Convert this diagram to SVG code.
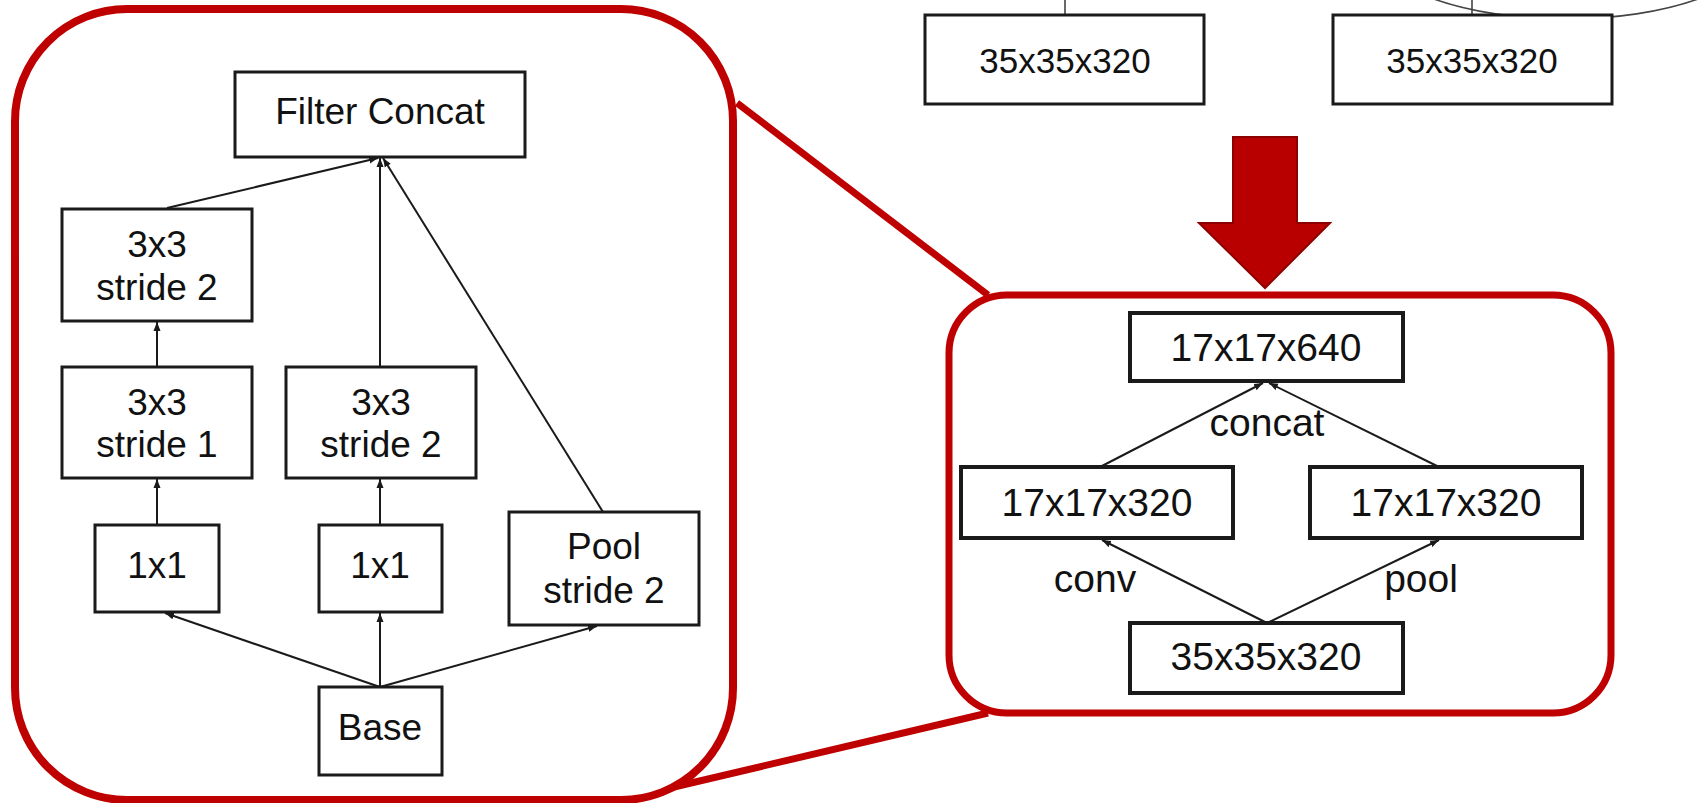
<svg xmlns="http://www.w3.org/2000/svg" width="1699" height="803" viewBox="0 0 1699 803">
  <style>
    .bg { fill: #ffffff; }
    .box { fill: #ffffff; stroke: #1a1a1a; stroke-width: 3; }
    .box2 { fill: #ffffff; stroke: #1a1a1a; stroke-width: 4; }
    .frame { fill: none; stroke: #BF0000; stroke-width: 8; }
    .link { fill: none; stroke: #BF0000; stroke-width: 7; stroke-linecap: butt; }
    .edge { fill: none; stroke: #1a1a1a; stroke-width: 2; }
    .thin { fill: none; stroke: #444444; stroke-width: 1.6; }
    .t { font-family: "Liberation Sans", Arial, sans-serif; fill: #111111; text-anchor: middle; }
    .l { font-size: 37px; }
    .r { font-size: 39px; }
    .s { font-size: 35px; }
  </style>
  <defs>
    <marker id="ah" markerUnits="userSpaceOnUse" markerWidth="10" markerHeight="8" refX="9" refY="4" orient="auto">
      <path d="M0,0.5 L9,4 L0,7.5 Z" fill="#1a1a1a"/>
    </marker>
  </defs>

  <rect class="bg" x="0" y="0" width="1699" height="803"/>

  <!-- upper stage: two 35x35x320 blocks and the edges feeding them -->
  <g id="upper-stage">
    <line class="thin" x1="1065" y1="0" x2="1065" y2="14"/>
    <line class="thin" x1="1472" y1="0" x2="1472" y2="14"/>
    <ellipse class="thin" cx="1566" cy="-54" rx="192" ry="73"/>
    <g id="top-a">
      <rect class="box" x="925" y="15" width="279" height="89"/>
      <text class="t s" x="1065" y="73">35x35x320</text>
    </g>
    <g id="top-b">
      <rect class="box" x="1333" y="15" width="279" height="89"/>
      <text class="t s" x="1472" y="73">35x35x320</text>
    </g>
  </g>

  <!-- big red down arrow -->
  <g id="down-arrow">
    <path d="M1233,137 L1297,137 L1297,223 L1330,223 L1265,288 L1199,223 L1233,223 Z" fill="#B80000" stroke="#8E0000" stroke-width="2" stroke-linejoin="miter"/>
  </g>

  <!-- red callout frames and the lines joining them -->
  <g id="frames">
    <rect class="frame" x="15" y="9" width="718" height="791" rx="112" ry="112"/>
    <rect class="frame" x="949" y="295" width="662" height="418" rx="58" ry="58" style="stroke-width:7"/>
    <line class="link" x1="737" y1="103" x2="988" y2="295"/>
    <line class="link" x1="674" y1="787" x2="988" y2="713"/>
  </g>

  <!-- connectors -->
  <g id="connectors">
    <!-- inception grid module -->
    <line class="edge" x1="167" y1="208" x2="378" y2="158" marker-end="url(#ah)"/>
    <line class="edge" x1="380" y1="367" x2="380" y2="158" marker-end="url(#ah)"/>
    <line class="edge" x1="603" y1="512" x2="383" y2="158" marker-end="url(#ah)"/>
    <line class="edge" x1="157" y1="367" x2="157" y2="322" marker-end="url(#ah)"/>
    <line class="edge" x1="157" y1="525" x2="157" y2="479" marker-end="url(#ah)"/>
    <line class="edge" x1="380" y1="525" x2="380" y2="479" marker-end="url(#ah)"/>
    <line class="edge" x1="380" y1="687" x2="165" y2="613" marker-end="url(#ah)"/>
    <line class="edge" x1="380" y1="687" x2="380" y2="613" marker-end="url(#ah)"/>
    <line class="edge" x1="380" y1="687" x2="597" y2="626" marker-end="url(#ah)"/>
    <!-- reduction block -->
    <line class="edge" x1="1100" y1="467" x2="1263" y2="383" marker-end="url(#ah)"/>
    <line class="edge" x1="1439" y1="467" x2="1269" y2="383" marker-end="url(#ah)"/>
    <line class="edge" x1="1267" y1="623" x2="1102" y2="540" marker-end="url(#ah)"/>
    <line class="edge" x1="1267" y1="623" x2="1439" y2="540" marker-end="url(#ah)"/>
  </g>

  <!-- inception grid module nodes -->
  <g id="filter-concat">
    <rect class="box" x="235" y="72" width="290" height="85"/>
    <text class="t l" x="380" y="124">Filter Concat</text>
  </g>
  <g id="conv3-s2-a">
    <rect class="box" x="62" y="209" width="190" height="112"/>
    <text class="t l" x="157" y="257">3x3</text>
    <text class="t l" x="157" y="300">stride 2</text>
  </g>
  <g id="conv3-s1">
    <rect class="box" x="62" y="367" width="190" height="111"/>
    <text class="t l" x="157" y="415">3x3</text>
    <text class="t l" x="157" y="457">stride 1</text>
  </g>
  <g id="conv3-s2-b">
    <rect class="box" x="286" y="367" width="190" height="111"/>
    <text class="t l" x="381" y="415">3x3</text>
    <text class="t l" x="381" y="457">stride 2</text>
  </g>
  <g id="conv1-a">
    <rect class="box" x="95" y="525" width="124" height="87"/>
    <text class="t l" x="157" y="578">1x1</text>
  </g>
  <g id="conv1-b">
    <rect class="box" x="319" y="525" width="123" height="87"/>
    <text class="t l" x="380" y="578">1x1</text>
  </g>
  <g id="pool">
    <rect class="box" x="509" y="512" width="190" height="113"/>
    <text class="t l" x="604" y="559">Pool</text>
    <text class="t l" x="604" y="603">stride 2</text>
  </g>
  <g id="base">
    <rect class="box" x="319" y="687" width="123" height="88"/>
    <text class="t l" x="380" y="740">Base</text>
  </g>

  <!-- reduction block nodes -->
  <g id="out-640">
    <rect class="box2" x="1130" y="313" width="273" height="68"/>
    <text class="t r" x="1266" y="361">17x17x640</text>
  </g>
  <g id="conv-320">
    <rect class="box2" x="961" y="467" width="272" height="71"/>
    <text class="t r" x="1097" y="516">17x17x320</text>
  </g>
  <g id="pool-320">
    <rect class="box2" x="1310" y="467" width="272" height="71"/>
    <text class="t r" x="1446" y="516">17x17x320</text>
  </g>
  <g id="in-320">
    <rect class="box2" x="1130" y="623" width="273" height="70"/>
    <text class="t r" x="1266" y="670">35x35x320</text>
  </g>

  <!-- edge labels -->
  <g id="labels">
    <text class="t r" x="1267" y="436">concat</text>
    <text class="t r" x="1095" y="592">conv</text>
    <text class="t r" x="1421" y="592">pool</text>
  </g>
</svg>
